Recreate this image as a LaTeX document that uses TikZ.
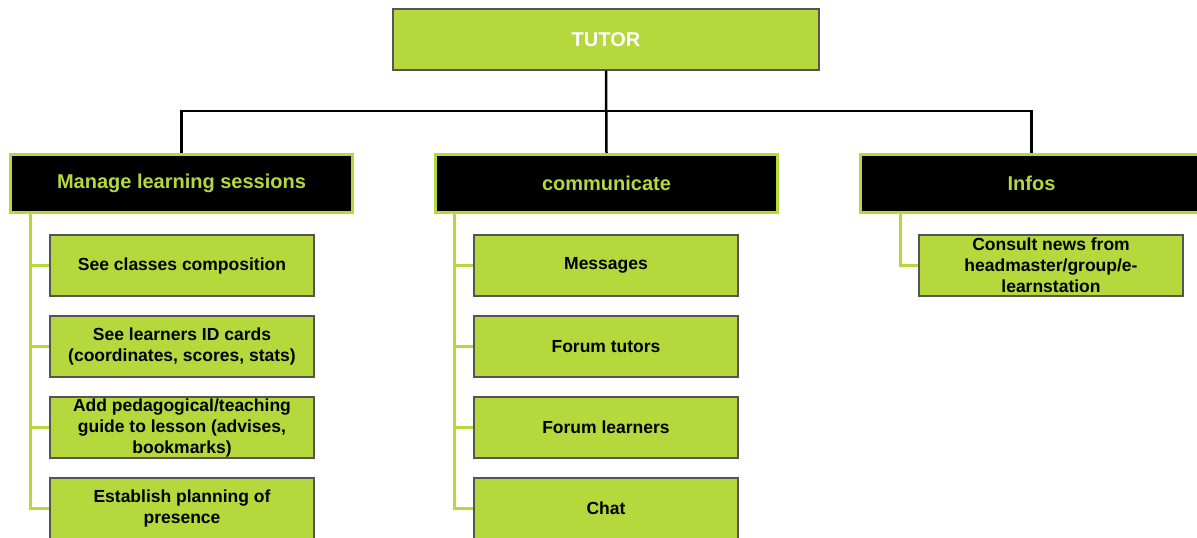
\documentclass[tikz,border=0pt]{standalone}
\usepackage{fontspec}
\setmainfont{Liberation Sans}
\definecolor{lgreen}{HTML}{B5D93D}
\definecolor{bgray}{HTML}{555555}
\begin{document}
\begin{tikzpicture}[x=1pt,y=-1pt,
  topbox/.style={draw=bgray,line width=1.3pt,fill=lgreen,minimum width=426pt,minimum height=61pt,inner sep=0pt,
     font=\fontsize{20}{23}\selectfont\bfseries,text=white},
  catbox/.style={draw=lgreen,line width=3pt,fill=black,minimum width=342pt,minimum height=58pt,inner sep=0pt,
     font=\fontsize{20}{23}\selectfont\bfseries,text=lgreen},
  childbox/.style={draw=bgray,line width=1.3pt,fill=lgreen,minimum width=264pt,minimum height=61pt,inner sep=0pt,
     align=center,font=\fontsize{17.5}{21}\selectfont\bfseries,text=black},
  tline/.style={line width=2.5pt,black},
  gline/.style={line width=3pt,lgreen}]
\useasboundingbox (0,0) rectangle (1197,538);
\clip (0,0) rectangle (1197,538);
% top
\node[topbox] (tutor) at (606,39.5) {TUTOR};
% categories
\node[catbox] (mls) at (181.5,183.5) {Manage learning sessions};
\node[catbox] (com) at (606.5,183.5) {communicate};
\node[catbox] (inf) at (1031.5,183.5) {Infos};
\coordinate (bar) at (606,111);
\draw[tline] (tutor.south) -- (com.north);
\draw[tline] (mls.north) |- (bar) -| (inf.north);
% children manage
\node[childbox] (m1) at (182,265.5) {See classes composition};
\node[childbox] (m2) at (182,346.5) {See learners ID cards\\(coordinates, scores, stats)};
\node[childbox] (m3) at (182,427.5) {Add pedagogical/teaching\\guide to lesson (advises,\\bookmarks)};
\node[childbox] (m4) at (182,508.5) {Establish planning of\\presence};
% children communicate
\node[childbox] (c1) at (606,265.5) {Messages};
\node[childbox] (c2) at (606,346.5) {Forum tutors};
\node[childbox] (c3) at (606,427.5) {Forum learners};
\node[childbox] (c4) at (606,508.5) {Chat};
% children infos
\node[childbox] (i1) at (1051,265.5) {Consult news from\\headmaster/group/e-\\learnstation};
% green connectors
\coordinate (mx) at ([xshift=21pt]mls.south west);
\coordinate (cx) at ([xshift=20pt]com.south west);
\coordinate (ix) at ([xshift=41pt]inf.south west);
\foreach \n in {m1,m2,m3,m4}{\draw[gline] (mx) |- (\n.west);}
\foreach \n in {c1,c2,c3,c4}{\draw[gline] (cx) |- (\n.west);}
\draw[gline] (ix) |- (i1.west);
\end{tikzpicture}
\end{document}
